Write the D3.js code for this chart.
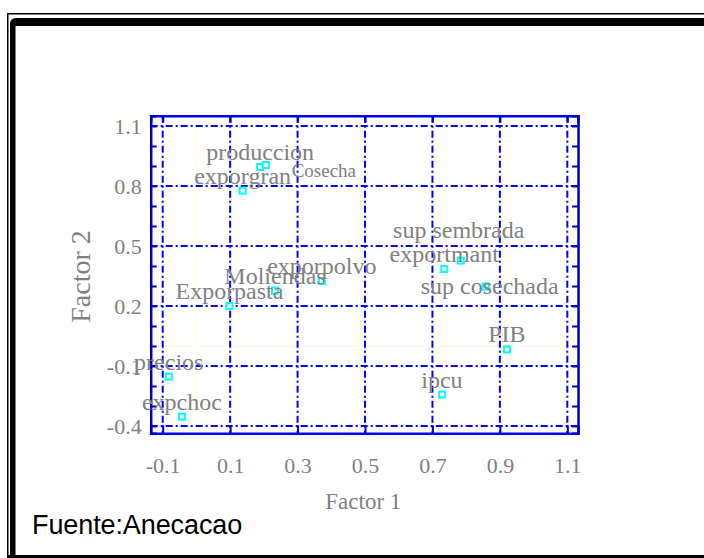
<!DOCTYPE html>
<html>
<head>
<meta charset="utf-8">
<script src="https://cdn.jsdelivr.net/npm/d3@7/dist/d3.min.js"></script>
<style>
html,body{margin:0;padding:0;background:#fff;}
svg{display:block;}
</style>
</head>
<body>
<svg id="chart" width="704" height="558"></svg>
<script>
// ---- data ----
const labels  = ["produccion","Cosecha","exporgran","Moliendas","Exporpasta","exporpolvo","sup sembrada","exportmant","sup cosechada","PIB","ipcu","precios","expchoc"];
const factor1 = [0.189, 0.206, 0.137, 0.233, 0.098, 0.372, 0.784, 0.735, 0.858, 0.921, 0.728, -0.082, -0.043];
const factor2 = [0.895, 0.905, 0.777, 0.277, 0.200, 0.325, 0.427, 0.385, 0.297, -0.017, -0.243, -0.153, -0.353];
const xTicks = [-0.1, 0.1, 0.3, 0.5, 0.7, 0.9, 1.1];
const yTicks = [1.1, 0.8, 0.5, 0.2, -0.1, -0.4];
const yMinorTicks = [1.1,1.0,0.9,0.8,0.7,0.6,0.5,0.4,0.3,0.2,0.1,0.0,-0.1,-0.2,-0.3,-0.4];
const xDomain = [-0.1356, 1.1317];
const yDomain = [-0.4365, 1.1515];
const source = "Fuente:Anecacao";

// label placement tweaks (pixels: dx, dy, font size), separate from data
const labelNudge = {"Cosecha":[58,12,19], "sup sembrada":[-2,-23,24], "sup cosechada":[4,7,24]};

const svg = d3.select("#chart");
const L = 150.7, R = 578, T = 115.7, B = 433.3;
const x = d3.scaleLinear().domain(xDomain).range([L, R]);
const y = d3.scaleLinear().domain(yDomain).range([B, T]);
const fmt = d => d3.format(".1f")(d).replace("\u2212","-");

// ---- outer frame ----
svg.append("path").attr("d","M7.75,562 V13.75 H712").attr("fill","none").attr("stroke","#000").attr("stroke-width",1.5);
svg.append("path").attr("d","M10,562 V24 Q10,18 16,18 H712 V26 H15.5 V562 Z").attr("fill","#000");
svg.append("rect").attr("x",7).attr("y",555).attr("width",700).attr("height",4).attr("fill","#000");

// ---- zero lines (pale) ----
svg.append("line").attr("x1",x(0)).attr("x2",x(0)).attr("y1",T).attr("y2",B)
  .attr("stroke","#fffbe0").attr("stroke-width",1.5);
svg.append("line").attr("x1",L).attr("x2",R).attr("y1",y(0)).attr("y2",y(0))
  .attr("stroke","#fffbe0").attr("stroke-width",1.5);

// ---- grid ----
const dash = "7,3,2,3";
svg.append("g").selectAll("line").data(xTicks).join("line")
  .attr("x1",d=>x(d)).attr("x2",d=>x(d)).attr("y1",T).attr("y2",B)
  .attr("stroke","#0000ff").attr("stroke-width",2).attr("stroke-dasharray",dash);
svg.append("g").selectAll("line").data(yTicks).join("line")
  .attr("x1",L).attr("x2",R).attr("y1",d=>y(d)).attr("y2",d=>y(d))
  .attr("stroke","#0000ff").attr("stroke-width",2).attr("stroke-dasharray",dash);

// ---- axes ----
const tickFont = "'Liberation Serif','Times New Roman',serif";
const xAxisTop = d3.axisTop(x).tickValues(xTicks).tickSize(-7).tickFormat("");
const gxt = svg.append("g").attr("transform",`translate(0,${T})`).call(xAxisTop);
const xAxisBot = d3.axisBottom(x).tickValues(xTicks).tickSize(-8).tickPadding(24).tickFormat(fmt);
const gxb = svg.append("g").attr("transform",`translate(0,${B})`).call(xAxisBot);
const yAxisL = d3.axisLeft(y).tickValues(yMinorTicks).tickSize(-6).tickFormat("");
const gyl = svg.append("g").attr("transform",`translate(${L},0)`).call(yAxisL);
const yAxisR = d3.axisRight(y).tickValues(yMinorTicks).tickSize(-6).tickFormat("");
const gyr = svg.append("g").attr("transform",`translate(${R},0)`).call(yAxisR);
const yLab = d3.axisLeft(y).tickValues(yTicks).tickSize(0).tickPadding(9).tickFormat(fmt);
const gyLab = svg.append("g").attr("transform",`translate(${L},0)`).call(yLab);
gyLab.select(".domain").remove();

[gxt,gxb,gyl,gyr].forEach(g=>g.selectAll(".tick line").attr("stroke","#0000c8").attr("stroke-width",2));
gxt.select(".domain").attr("stroke","#0000ff").attr("stroke-width",2.5);
gxb.select(".domain").attr("stroke","#0000ff").attr("stroke-width",2.5);
gyl.select(".domain").attr("stroke","#0000b4").attr("stroke-width",2.5);
gyr.select(".domain").attr("stroke","#0000b4").attr("stroke-width",2.5);
[gxb,gyLab].forEach(g=>g.selectAll("text").attr("fill","#808080").style("font-family",tickFont).style("font-size","22px"));

// ---- axis titles ----
svg.append("text").attr("x",(L+R)/2 - 1).attr("y",509).attr("text-anchor","middle")
  .attr("fill","#808080").style("font-family",tickFont).style("font-size","23px").text("Factor 1");
svg.append("text").attr("transform",`translate(90,${(T+B)/2 + 2}) rotate(-90)`).attr("text-anchor","middle")
  .attr("fill","#808080").style("font-family",tickFont).style("font-size","28px").text("Factor 2");

// ---- points ----
const pts = labels.map((l,i)=>({l, fx:factor1[i], fy:factor2[i]}));
svg.append("g").selectAll("rect").data(pts).join("rect")
  .attr("x",d=>x(d.fx)-3).attr("y",d=>y(d.fy)-3).attr("width",6).attr("height",6)
  .attr("fill","#fff").attr("stroke","#00ffff").attr("stroke-width",2);

// ---- labels ----
svg.append("g").selectAll("text").data(pts).join("text")
  .attr("x",d=>x(d.fx) + (labelNudge[d.l]?labelNudge[d.l][0]:0))
  .attr("y",d=>y(d.fy) + (labelNudge[d.l]?labelNudge[d.l][1]:-7))
  .attr("text-anchor","middle").attr("fill","#808080")
  .style("font-family",tickFont)
  .style("font-size",d=>(labelNudge[d.l]?labelNudge[d.l][2]:24)+"px")
  .text(d=>d.l);

// ---- source ----
svg.append("text").attr("x",32).attr("y",534).attr("fill","#000")
  .style("font-family","'Liberation Sans',Arial,sans-serif").style("font-size","27px")
  .style("letter-spacing","-0.1px").text(source);
</script>
</body>
</html>
